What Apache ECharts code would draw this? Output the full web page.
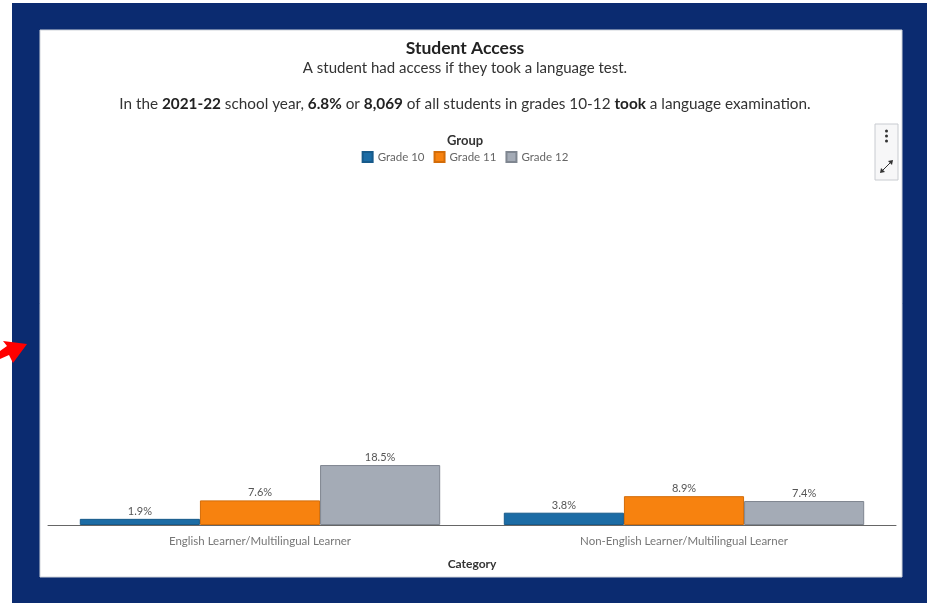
<!DOCTYPE html>
<html><head><meta charset="utf-8">
<script src="https://cdn.jsdelivr.net/npm/echarts@6/dist/echarts.min.js"></script>
<style>html,body{margin:0;padding:0;background:#fff}#c{width:930px;height:603px}</style>
</head><body><div id="c"></div>
<script>
const categories = ['English Learner/Multilingual Learner', 'Non-English Learner/Multilingual Learner'];
const seriesNames = ['Grade 10', 'Grade 11', 'Grade 12'];
const grade10 = [1.9, 3.8];
const grade11 = [7.6, 8.9];
const grade12 = [18.5, 7.4];
const colors = ['#1c6ca5', '#f7820f', '#a4abb6'];
const borders = ['#175a8a', '#d36c08', '#7f8690'];
const FONT = 'Lato, "Open Sans", sans-serif';

const chart = echarts.init(document.getElementById('c'));
const data = [grade10, grade11, grade12];
chart.setOption({
  animation: false,
  textStyle: {fontFamily: FONT},
  graphic: [
    {type: 'rect', z: -10, shape: {x: 12, y: 3, width: 915, height: 600}, style: {fill: '#0b2b70'}},
    {type: 'rect', z: -9, shape: {x: 40, y: 30, width: 862, height: 547}, style: {fill: '#ffffff', stroke: '#d0d4da', lineWidth: 1}},
    {type: 'polygon', z: 50, shape: {points: [[27,344],[3,341],[7,346],[0,351],[0,359],[9,355],[13,363]]}, style: {fill: '#ff0000'}},
    {type: 'rect', z: 5, shape: {x: 875, y: 124, width: 23, height: 56}, style: {fill: '#f7f7f8', stroke: '#c8cbd0', lineWidth: 1}},
    {type: 'circle', z: 6, shape: {cx: 886.5, cy: 131, r: 1.5}, style: {fill: '#333'}},
    {type: 'circle', z: 6, shape: {cx: 886.5, cy: 136, r: 1.5}, style: {fill: '#333'}},
    {type: 'circle', z: 6, shape: {cx: 886.5, cy: 141, r: 1.5}, style: {fill: '#333'}},
    {type: 'line', z: 6, shape: {x1: 881, y1: 172, x2: 892, y2: 161}, style: {stroke: '#333', lineWidth: 1}},
    {type: 'polygon', z: 6, shape: {points: [[893,160],[888,161],[892,165]]}, style: {fill: '#333'}},
    {type: 'polygon', z: 6, shape: {points: [[880,173],[881,168],[885,172]]}, style: {fill: '#333'}}
  ],
  title: [
    {text: 'Student Access', left: 'center', top: 39, padding: 0, textStyle: {fontSize: 17.5, fontWeight: 'bold', color: '#222', fontFamily: FONT}},
    {text: 'A student had access if they took a language test.', left: 'center', top: 61, padding: 0, textStyle: {fontSize: 15, fontWeight: 'normal', color: '#333', fontFamily: FONT}},
    {text: 'In the {b|2021-22} school year, {b|6.8%} or {b|8,069} of all students in grades 10-12 {b|took} a language examination.', left: 'center', top: 97, padding: 0,
     textStyle: {fontSize: 15.3, fontWeight: 'normal', color: '#333', fontFamily: FONT,
       rich: {b: {fontWeight: 'bold', fontSize: 15.3, color: '#222', fontFamily: FONT}}}},
    {text: 'Group', left: 'center', top: 134, padding: 0, textStyle: {fontSize: 13, fontWeight: 'bold', color: '#333', fontFamily: FONT}}
  ],
  legend: {top: 146, left: 'center', itemWidth: 10, itemHeight: 10, itemGap: 9, icon: 'rect',
    textStyle: {fontSize: 11.5, color: '#666', fontFamily: FONT}, data: seriesNames},
  grid: {left: 48, right: 34, top: 201, bottom: 78},
  xAxis: {type: 'category', data: categories,
    axisLine: {lineStyle: {color: '#666', width: 1}},
    axisTick: {alignWithLabel: true, length: 5, lineStyle: {color: '#555'}},
    axisLabel: {fontSize: 11.5, color: '#777', margin: 10, fontFamily: FONT},
    name: 'Category', nameLocation: 'middle', nameGap: 33,
    nameTextStyle: {fontSize: 12, fontWeight: 'bold', color: '#333', fontFamily: FONT}},
  yAxis: {type: 'value', min: 0, max: 100, show: false, splitLine: {show: false}},
  series: seriesNames.map((n, i) => ({
    name: n, type: 'bar', data: data[i], barGap: '0%', barCategoryGap: '15%',
    itemStyle: {color: colors[i], borderColor: borders[i], borderWidth: 1},
    label: {show: true, position: 'top', distance: 2, fontSize: 11, color: '#555', fontFamily: FONT,
      formatter: p => p.value.toFixed(1) + '%'}
  }))
});
</script></body></html>
